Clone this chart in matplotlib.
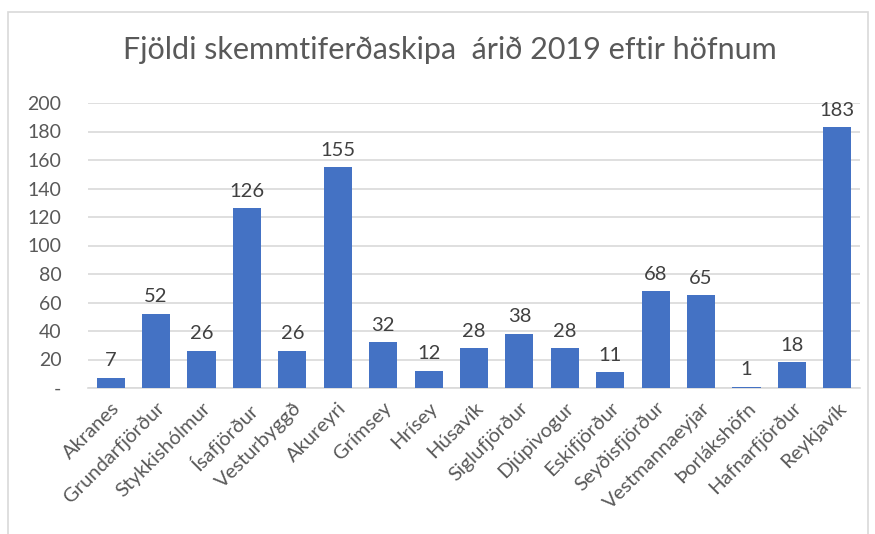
import matplotlib.pyplot as plt
from matplotlib.patches import Rectangle

# data
hafnir = ["Akranes", "Grundarfjörður", "Stykkishólmur", "Ísafjörður", "Vesturbyggð",
          "Akureyri", "Grímsey", "Hrísey", "Húsavík", "Siglufjörður", "Djúpivogur",
          "Eskifjörður", "Seyðisfjörður", "Vestmannaeyjar", "Þorlákshöfn",
          "Hafnarfjörður", "Reykjavík"]
skip = [7, 52, 26, 126, 26, 155, 32, 12, 28, 38, 28, 11, 68, 65, 1, 18, 183]
y_ticks = [0, 20, 40, 60, 80, 100, 120, 140, 160, 180, 200]
y_labels = ["-"] + [str(t) for t in y_ticks[1:]]

plt.rcParams["font.family"] = ["Lato", "DejaVu Sans"]

fig = plt.figure(figsize=(8.75, 5.34), dpi=100)
ax = fig.add_axes([88 / 875, 1 - 388 / 534, 772 / 875, 285 / 534])

x = range(len(hafnir))
bars = ax.bar(x, skip, width=0.62, color="#4472C4", zorder=3)
for b, v in zip(bars, skip):
    ax.text(b.get_x() + b.get_width() / 2, v + 6, str(v), ha="center", va="bottom",
            fontsize=14.5, color="#404040")

ax.set_xlim(-0.5, len(hafnir) - 0.5)
ax.set_ylim(0, 200)
ax.set_yticks(y_ticks)
ax.set_yticklabels(y_labels, fontsize=14, color="#595959")
ax.set_xticks(list(x))
ax.set_xticklabels(hafnir, rotation=45, ha="right", rotation_mode="anchor",
                   fontsize=14.5, color="#595959")
ax.tick_params(length=0, pad=8)
ax.tick_params(axis="y", pad=19)
ax.grid(axis="y", color="#D9D9D9", linewidth=1.2, zorder=0)
for s in ["top", "right", "left"]:
    ax.spines[s].set_visible(False)
ax.spines["bottom"].set_color("#D9D9D9")
ax.spines["bottom"].set_linewidth(1.2)

fig.text(450 / 875, 1 - 50 / 534, "Fjöldi skemmtiferðaskipa  árið 2019 eftir höfnum",
         ha="center", va="center", fontsize=22, color="#595959")

# chart frame
fig.patches.append(Rectangle((8 / 875, -0.05), 860 / 875, 1 - 12 / 534 + 0.05,
                             transform=fig.transFigure, fill=False,
                             edgecolor="#D9D9D9", linewidth=1.2))

fig.savefig("out.png", dpi=100)
